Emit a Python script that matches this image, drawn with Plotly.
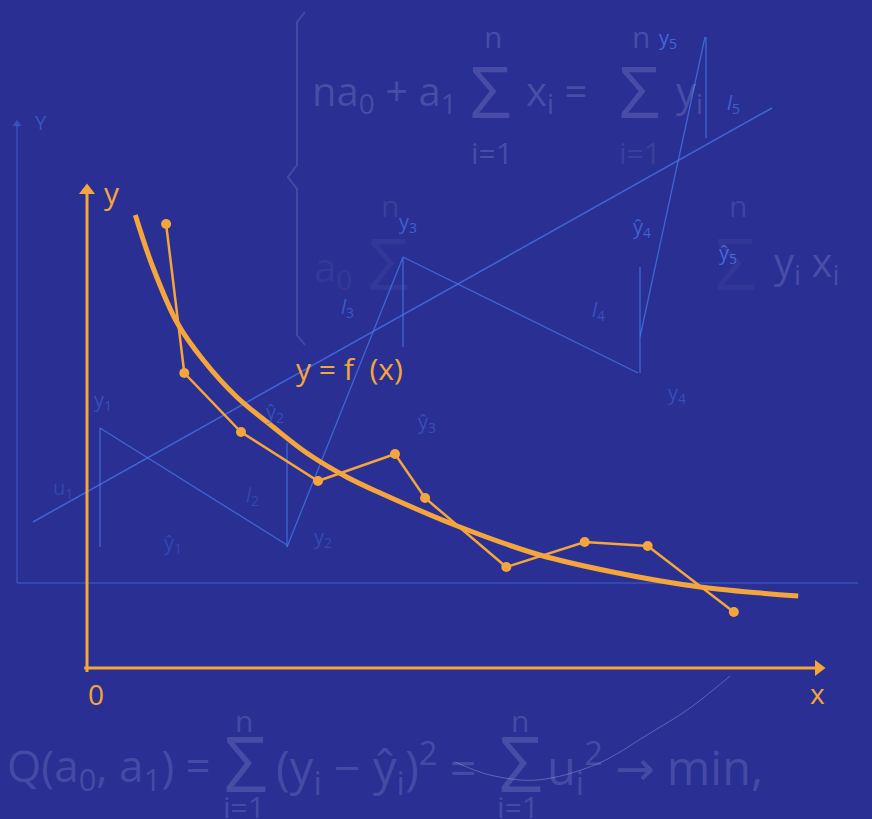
import plotly.graph_objects as go

# observed points y_i (chart units)
obs_x = [1.13, 1.39, 2.20, 3.30, 4.40, 4.83, 5.99, 7.11, 8.01, 9.24]
obs_y = [8.88, 5.90, 4.72, 3.74, 4.28, 3.40, 2.02, 2.52, 2.44, 1.12]

# fitted curve y = f(x)
curve_x = [0.69, 0.94, 1.29, 1.66, 2.14, 2.66, 3.14, 3.71, 4.19, 5.29, 6.47, 7.51, 8.76, 10.16]
curve_y = [9.06, 8.02, 6.90, 6.16, 5.42, 4.82, 4.30, 3.82, 3.50, 2.84, 2.26, 1.92, 1.62, 1.44]

x_axis_end = 10.45
y_axis_end = 9.55

# faint background drawing (page pixels)
reg_x = [33, 772]
reg_y = [522, 108]
zig_x = [100, 100, 287, None, 287, 287, None, 287, 403, 403, None, 403, 638, None, 640, 640, None, 640, 705, None, 706, 706]
zig_y = [547, 428, 545, None, 443, 547, None, 547, 257, 347, None, 257, 373, None, 267, 373, None, 337, 37, None, 37, 138]
old_axis_x = [17, 17, None, 17, 858]
old_axis_y = [125, 583, None, 583, 583]
brace_x = [305, 297, 297, 288, 297, 297, 305]
brace_y = [12, 22, 165, 177, 189, 335, 345]
arc_x = [455, 490, 537, 597, 647, 690, 730]
arc_y = [762, 775, 780, 764, 735, 708, 676]

blue_labels = [
    ("y<sub>1</sub>", 103, 400, 0.45), ("ŷ<sub>1</sub>", 173, 543, 0.35), ("u<sub>1</sub>", 63, 488, 0.35),
    ("<i>l</i><sub>2</sub>", 252, 495, 0.35), ("ŷ<sub>2</sub>", 275, 412, 0.45), ("y<sub>2</sub>", 323, 537, 0.4),
    ("y<sub>3</sub>", 408, 222, 0.7), ("<i>l</i><sub>3</sub>", 347, 307, 0.6), ("ŷ<sub>3</sub>", 427, 422, 0.45),
    ("<i>l</i><sub>4</sub>", 598, 310, 0.5), ("ŷ<sub>4</sub>", 642, 227, 0.7), ("y<sub>4</sub>", 677, 393, 0.45),
    ("y<sub>5</sub>", 668, 38, 0.8), ("<i>l</i><sub>5</sub>", 733, 103, 0.7), ("ŷ<sub>5</sub>", 728, 253, 0.8),
    ("Y", 41, 122, 0.55),
]

# formula pieces: text, x, y, size, anchor, alpha
formula = [
    ("na<sub>0</sub> + a<sub>1</sub>", 310, 92, 40, "left", 0.28),
    ("Σ", 490, 90, 72, "center", 0.28),
    ("x<sub>i</sub> =", 524, 92, 40, "left", 0.28),
    ("Σ", 639, 90, 72, "center", 0.28),
    ("y<sub>i</sub>", 674, 92, 40, "left", 0.28),
    ("n", 493, 36, 30, "center", 0.28), ("n", 641, 36, 30, "center", 0.28),
    ("i=1", 492, 152, 30, "center", 0.28), ("i=1", 640, 152, 30, "center", 0.18),
    ("n", 390, 205, 30, "center", 0.16), ("Σ", 388, 262, 72, "center", 0.08),
    ("a<sub>0</sub>", 312, 268, 40, "left", 0.1),
    ("n", 738, 205, 30, "center", 0.2), ("Σ", 735, 262, 72, "center", 0.07),
    ("y<sub>i</sub> x<sub>i</sub>", 772, 263, 40, "left", 0.28),
    ("Q(a<sub>0</sub>, a<sub>1</sub>) =", 5, 767, 44, "left", 0.27),
    ("Σ", 245, 762, 76, "center", 0.27),
    ("(y<sub>i</sub> − ŷ<sub>i</sub>)<sup>2</sup> =", 274, 767, 47, "left", 0.27),
    ("Σ", 520, 762, 76, "center", 0.27),
    ("u<sub>i</sub><sup>2</sup> → min,", 545, 767, 47, "left", 0.27),
    ("n", 244, 720, 30, "center", 0.27), ("n", 520, 720, 30, "center", 0.27),
    ("i=1", 244, 806, 30, "center", 0.27), ("i=1", 518, 806, 30, "center", 0.27),
]

bg = "rgb(42,47,147)"
orange = "#f4a63c"
line_blue = "rgba(70,120,235,0.75)"
faint_blue = "rgba(70,120,235,0.45)"
font = "Open Sans, Noto Sans, DejaVu Sans, sans-serif"

fig = go.Figure()

# background decoration on pixel axes (x, y)
fig.add_trace(go.Scatter(x=old_axis_x, y=old_axis_y, mode="lines", line=dict(color=faint_blue, width=1.5)))
fig.add_trace(go.Scatter(x=[17], y=[124], mode="markers", marker=dict(symbol="triangle-up", size=8, color=faint_blue)))
fig.add_trace(go.Scatter(x=brace_x, y=brace_y, mode="lines", line=dict(color="rgba(130,135,200,0.3)", width=2)))
fig.add_trace(go.Scatter(x=reg_x, y=reg_y, mode="lines", line=dict(color=line_blue, width=1.5)))
fig.add_trace(go.Scatter(x=zig_x, y=zig_y, mode="lines", line=dict(color=line_blue, width=1.3)))
fig.add_trace(go.Scatter(x=arc_x, y=arc_y, mode="lines", line=dict(color="rgba(160,165,220,0.45)", width=1, shape="spline")))

# main chart on overlaid axes (x2, y2)
fig.add_trace(go.Scatter(x=[0, 0], y=[-0.08, y_axis_end], mode="lines", line=dict(color=orange, width=3), xaxis="x2", yaxis="y2"))
fig.add_trace(go.Scatter(x=[-0.04, x_axis_end], y=[0, 0], mode="lines", line=dict(color=orange, width=3), xaxis="x2", yaxis="y2"))
fig.add_trace(go.Scatter(x=[0], y=[y_axis_end], mode="markers", marker=dict(symbol="triangle-up", size=14, color=orange), xaxis="x2", yaxis="y2"))
fig.add_trace(go.Scatter(x=[x_axis_end], y=[0], mode="markers", marker=dict(symbol="triangle-right", size=14, color=orange), xaxis="x2", yaxis="y2"))
fig.add_trace(go.Scatter(x=curve_x, y=curve_y, mode="lines", line=dict(color=orange, width=5, shape="spline", smoothing=1.0), xaxis="x2", yaxis="y2"))
fig.add_trace(go.Scatter(x=obs_x, y=obs_y, mode="lines+markers", line=dict(color=orange, width=2.5),
                         marker=dict(size=10, color=orange), xaxis="x2", yaxis="y2"))

annotations = []
for txt, x, y, a in blue_labels:
    annotations.append(dict(text=txt, x=x, y=y, xref="x", yref="y", showarrow=False,
                            font=dict(family=font, size=20, color=f"rgba(70,120,235,{a})")))
for txt, x, y, s, anc, a in formula:
    annotations.append(dict(text=txt, x=x, y=y, xref="x", yref="y", showarrow=False, xanchor=anc,
                            font=dict(family=font, size=s, color=f"rgba(150,155,215,{a})")))

for txt, x, y, s in [("y", 0.36, 9.52, 30), ("0", 0.13, -0.52, 28), ("x", 10.44, -0.5, 28), ("y = f  (x)", 3.75, 6.0, 30)]:
    annotations.append(dict(text=txt, x=x, y=y, xref="x2", yref="y2", showarrow=False,
                            font=dict(family=font, size=s, color=orange)))

fig.update_layout(
    width=872, height=819,
    margin=dict(l=0, r=0, t=0, b=0),
    paper_bgcolor=bg, plot_bgcolor=bg,
    showlegend=False, hovermode=False,
    xaxis=dict(range=[0, 872], visible=False, fixedrange=True),
    yaxis=dict(range=[819, 0], visible=False, fixedrange=True),
    xaxis2=dict(range=[-87 / 70, 785 / 70], visible=False, overlaying="x", fixedrange=True),
    yaxis2=dict(range=[-151 / 50, 668 / 50], visible=False, overlaying="y", fixedrange=True),
    annotations=annotations,
)

# drop the page's default body margin so the figure fills the window
fig.write_html("out.html", config={"displayModeBar": False},
               post_script="document.body.style.margin='0';document.body.style.background='" + bg + "';")
